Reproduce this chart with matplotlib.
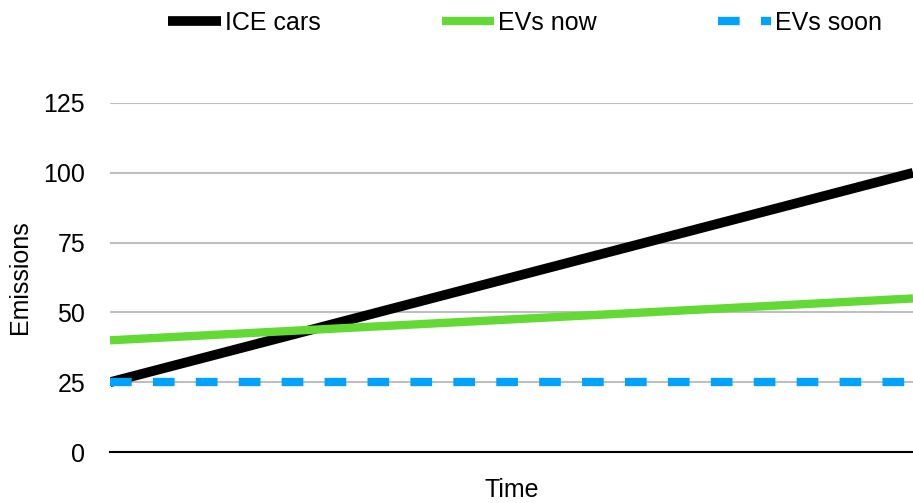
import matplotlib
matplotlib.use("Agg")
import matplotlib.pyplot as plt

plt.rcParams['font.family'] = ['Liberation Sans', 'DejaVu Sans']

time_points = [0, 1, 2, 3]
ice_cars = [25, 50, 75, 100]
evs_now = [40, 45, 50, 55]
evs_soon = [25, 25, 25, 25]
y_ticks = [0, 25, 50, 75, 100, 125]

fig = plt.figure(figsize=(9.13, 5.03), dpi=100)
ax = fig.add_axes([110/913, 1-452/503, 1-110/913, (452-103)/503])

ax.plot(time_points, ice_cars, color='black', lw=7, solid_capstyle='butt', label='ICE cars', zorder=3)
ax.plot(time_points, evs_now, color='#62d935', lw=6, solid_capstyle='butt', label='EVs now', zorder=3)
ax.plot(time_points, evs_soon, color='#00a2ff', lw=6, dash_capstyle='butt',
        ls=(0, (2.6, 2.55)), label='EVs soon', zorder=4)

ax.set_xlim(0, 3)
ax.set_ylim(0, 125)
ax.set_yticks(y_ticks)
ax.set_xticks([])
ax.yaxis.grid(True, color='#bfbfbf', lw=1.5)
ax.set_axisbelow(True)
for s in ['top', 'right', 'left']:
    ax.spines[s].set_visible(False)
ax.spines['bottom'].set_color('black')
ax.spines['bottom'].set_linewidth(1.5)
ax.spines['bottom'].set_zorder(5)
ax.tick_params(axis='y', length=0, labelsize=18, pad=18)

fig.text(20/913, 1-277/503, 'Emissions', rotation=90, ha='center', va='center', fontsize=18)
fig.text((110+913)/2/913, 1-490/503, 'Time', ha='center', va='center', fontsize=18)

leg = fig.legend(loc='center', bbox_to_anchor=(525/913, 1-23/503), ncol=3, frameon=False,
                 fontsize=18, handlelength=2.1, handletextpad=0.16, columnspacing=4.85,
                 borderpad=0, borderaxespad=0)

fig.savefig('out.png', dpi=100)
